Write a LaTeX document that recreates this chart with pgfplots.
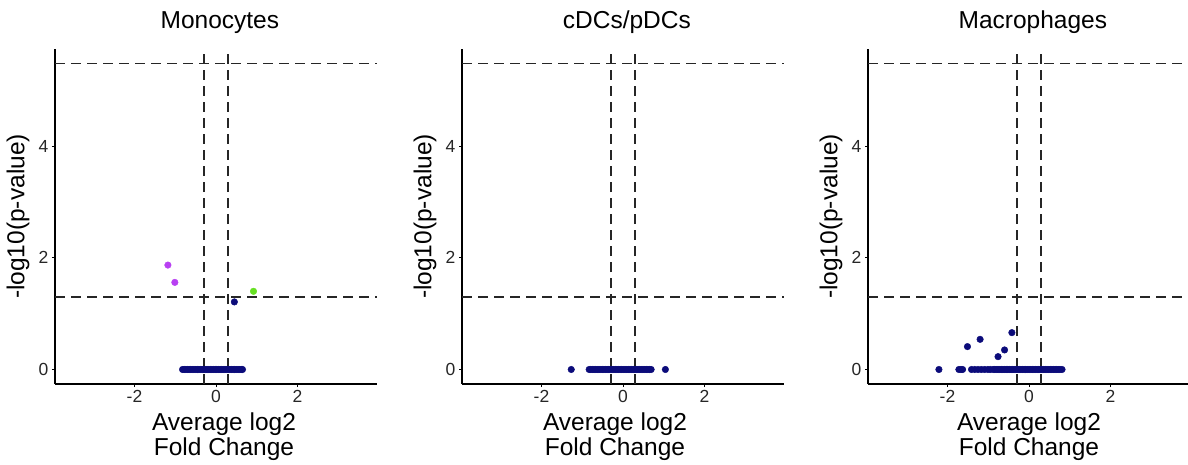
\documentclass[border=0pt]{standalone}
\usepackage{pgfplots}
\pgfplotsset{compat=1.18}
\usepackage{fontspec}
\setmainfont{Liberation Sans}
\definecolor{upreg}{HTML}{66E022}
\definecolor{downreg}{HTML}{B840F2}
\definecolor{nsig}{HTML}{0B0B7A}

\tikzset{cut/.style={black!85, line width=1.5pt, dash pattern=on 10pt off 6pt}}

\pgfplotsset{
  volcano/.style={
    scale only axis, width=322pt, height=335pt,
    xmin=-3.95, xmax=3.95, ymin=-0.26, ymax=5.74,
    axis lines=left, axis line style={-, line width=1.4pt},
    xtick={-2,0,2}, xticklabels={-2,0,2},
    ytick={0,2,4}, yticklabels={0,2,4},
    tick align=outside, major tick length=3pt,
    tick style={black, line width=0.8pt},
    tick label style={font=\fontsize{17.5}{20}\selectfont, text=black!85},
    title style={at={(axis description cs:0.512,1.043)}, anchor=base,
      font=\fontsize{24.5}{28}\selectfont},
    xlabel style={at={(axis description cs:0.5,-0.214)}, anchor=base, align=center,
      font=\fontsize{24.5}{25}\selectfont},
    ylabel style={at={(axis description cs:-0.1146,0.5)}, anchor=center,
      font=\fontsize{24.5}{28}\selectfont},
    xlabel={Average log2\\Fold Change},
    ylabel={-log10(p-value)},
    clip=false,
  },
  dot/.style={only marks, mark=*, mark size=3.3pt, color=#1, mark options={draw=#1, fill=#1}},
}

\newcommand{\cutlines}{%
  \draw[cut] (axis cs:-3.95,1.30) -- (axis cs:3.95,1.30);
  \draw[cut] (axis cs:-3.95,5.48) -- (axis cs:3.95,5.48);
  \draw[cut] (axis cs:-0.30,-0.26) -- (axis cs:-0.30,5.74);
  \draw[cut] (axis cs:0.30,-0.26) -- (axis cs:0.30,5.74);
}

\begin{document}
\begin{tikzpicture}[x=1pt,y=1pt]
\useasboundingbox (0,0) rectangle (1188,464);

% Monocytes
\begin{axis}[volcano, at={(55pt,80pt)}, anchor=south west, title={Monocytes},
  xlabel style={xshift=8pt}]
\addplot[dot=nsig] coordinates {
(-0.82,0) (-0.78,0) (-0.74,0) (-0.70,0) (-0.66,0) (-0.62,0) (-0.58,0) (-0.54,0)
(-0.50,0) (-0.46,0) (-0.42,0) (-0.38,0) (-0.34,0) (-0.30,0) (-0.26,0) (-0.22,0)
(-0.18,0) (-0.14,0) (-0.10,0) (-0.06,0) (-0.02,0) (0.02,0) (0.06,0) (0.10,0)
(0.14,0) (0.18,0) (0.22,0) (0.26,0) (0.30,0) (0.34,0) (0.38,0) (0.42,0)
(0.46,0) (0.50,0) (0.54,0) (0.58,0) (0.62,0) (0.65,0) (0.45,1.21)};
\addplot[dot=downreg] coordinates {(-1.18,1.87) (-1.01,1.56)};
\addplot[dot=upreg] coordinates {(0.92,1.40)};
\cutlines
\end{axis}

% cDCs/pDCs
\begin{axis}[volcano, at={(462pt,80pt)}, anchor=south west, title={cDCs/pDCs},
  xlabel style={xshift=-8pt}]
\addplot[dot=nsig] coordinates {
(-1.27,0)
(-0.83,0) (-0.79,0) (-0.75,0) (-0.71,0) (-0.67,0) (-0.63,0) (-0.59,0) (-0.55,0)
(-0.51,0) (-0.47,0) (-0.43,0) (-0.39,0) (-0.35,0) (-0.31,0) (-0.27,0) (-0.23,0)
(-0.19,0) (-0.15,0) (-0.11,0) (-0.07,0) (-0.03,0) (0.01,0) (0.05,0) (0.09,0)
(0.13,0) (0.17,0) (0.21,0) (0.25,0) (0.29,0) (0.33,0) (0.37,0) (0.41,0)
(0.45,0) (0.49,0) (0.53,0) (0.57,0) (0.61,0) (0.65,0) (0.69,0)
(1.04,0)};
\cutlines
\end{axis}

% Macrophages
\begin{axis}[volcano, at={(868pt,80pt)}, anchor=south west, title={Macrophages}]
\addplot[dot=nsig] coordinates {
(-2.21,0) (-1.72,0) (-1.67,0) (-1.63,0)
(-1.41,0) (-1.33,0) (-1.25,0) (-1.17,0) (-1.09,0) (-1.01,0) (-0.95,0)
(-0.88,0) (-0.84,0) (-0.80,0) (-0.76,0) (-0.72,0) (-0.68,0) (-0.64,0) (-0.60,0)
(-0.56,0) (-0.52,0) (-0.48,0) (-0.44,0) (-0.40,0) (-0.36,0) (-0.32,0) (-0.28,0)
(-0.24,0) (-0.20,0) (-0.16,0) (-0.12,0) (-0.08,0) (-0.04,0) (0.00,0) (0.04,0)
(0.08,0) (0.12,0) (0.16,0) (0.20,0) (0.24,0) (0.28,0) (0.32,0) (0.36,0)
(0.40,0) (0.44,0) (0.48,0) (0.52,0) (0.56,0) (0.60,0) (0.64,0) (0.68,0)
(0.72,0) (0.76,0) (0.81,0)
(-1.51,0.41) (-1.20,0.54) (-0.76,0.23) (-0.60,0.35) (-0.42,0.66)};
\cutlines
\end{axis}
\end{tikzpicture}
\end{document}
